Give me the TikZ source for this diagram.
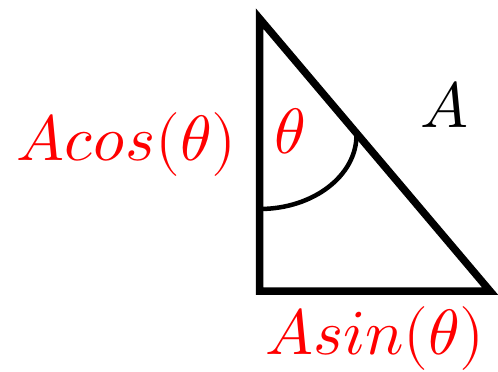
\documentclass[tikz,border=0pt]{standalone}
\usepackage{amsmath}
\usepackage{unicode-math}
\setmathfont{Latin Modern Math}
\usepackage{tikz}
\usetikzlibrary{calc}

\begin{document}
\begin{tikzpicture}[x=1pt,y=-1pt,
    every node/.style={font=\fontsize{64}{76}\selectfont, inner sep=0pt},
    lbl/.style={text=red, anchor=base}]
  \useasboundingbox (0,0) rectangle (498,372);
  \coordinate (top) at (259.5,18.5);
  \coordinate (bl) at (259.5,291);
  \coordinate (br) at (490,291);
  \coordinate (arcstart) at (259.5,209);
  \draw[line width=7.5pt, miter limit=20] (top) -- (bl) -- (br) -- cycle;
  % angle mark at the top corner
  \draw[line width=4.5pt] (arcstart) arc[start angle=270, end angle=360,
        x radius=97pt, y radius=74pt];
  \node[lbl] (cosLbl) at (126,160) {$Acos(\theta)$};
  \node[lbl] (sinLbl) at (375,354) {$Asin(\theta)$};
  \node[lbl] (angLbl) at (290,153) {$\theta$};
  \node[anchor=base] (hypLbl) at (444,127) {$A$};
\end{tikzpicture}
\end{document}
